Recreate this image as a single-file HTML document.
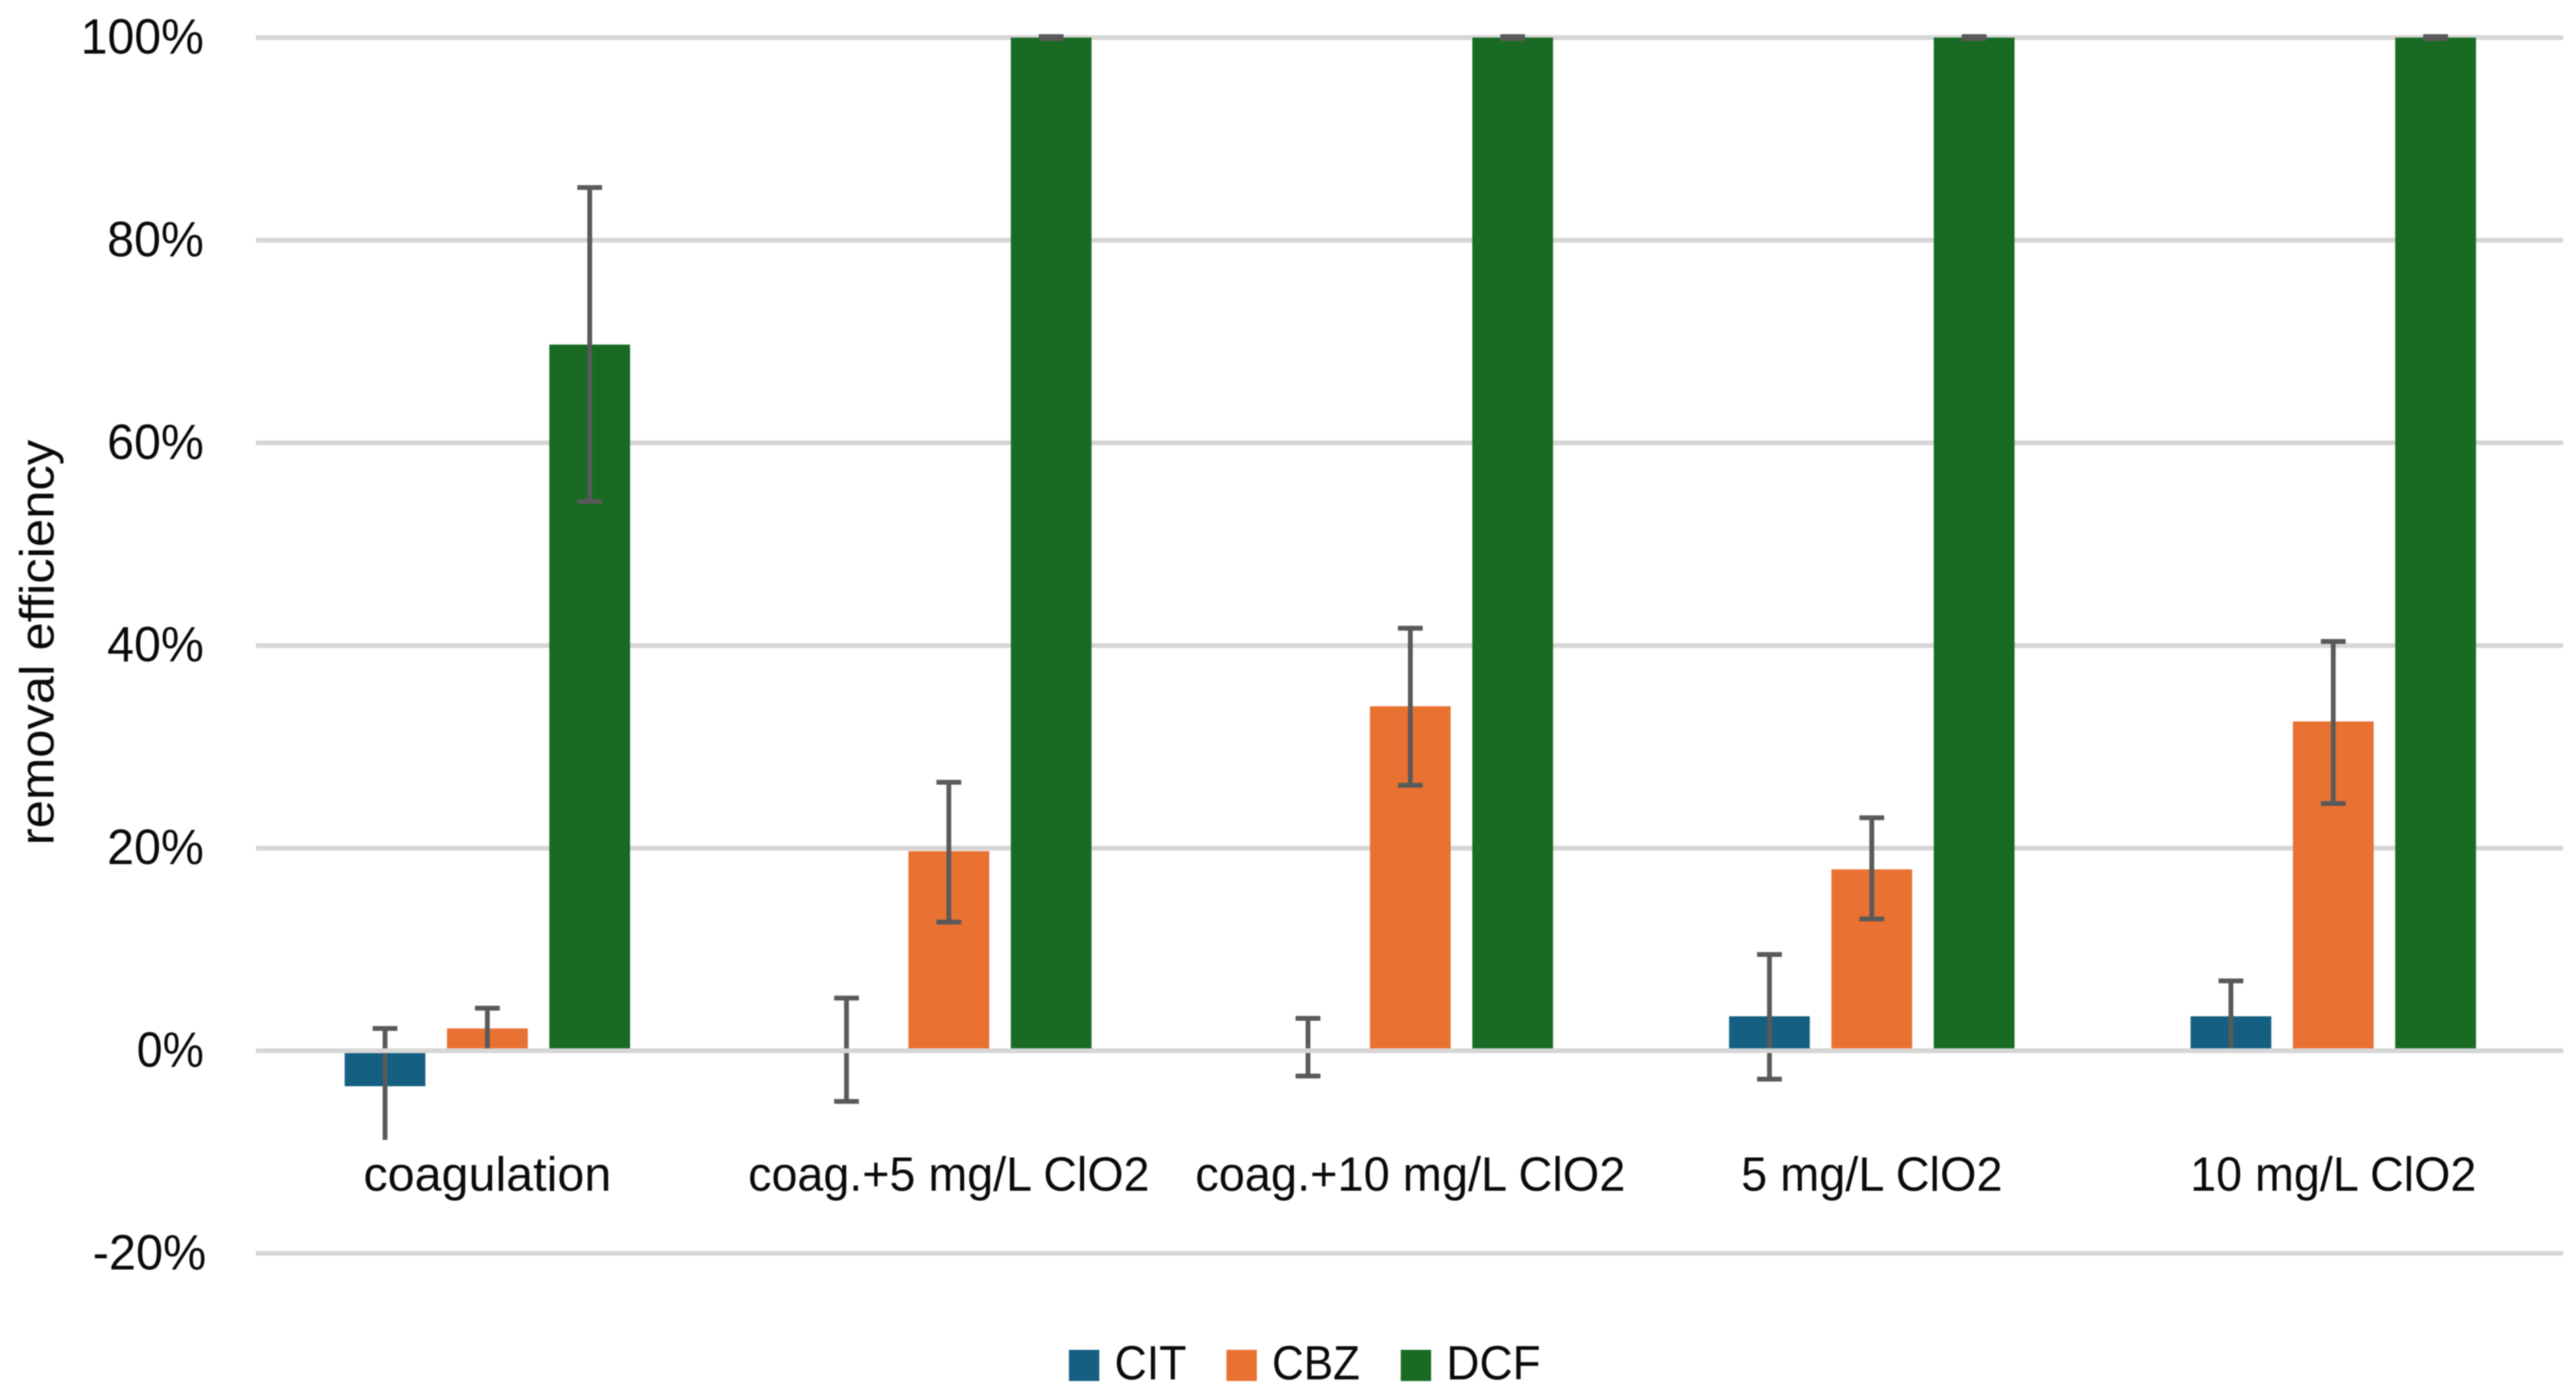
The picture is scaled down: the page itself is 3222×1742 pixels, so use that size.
<!DOCTYPE html>
<html lang="en">
<head>
<meta charset="utf-8">
<title>Removal efficiency chart</title>
<style>
  html, body { margin: 0; padding: 0; background: #ffffff; }
  body { width: 3222px; height: 1742px; overflow: hidden; }
  #chart { display: block; filter: blur(0.7px); }
  text { font-family: "Liberation Sans", sans-serif; font-size: 60px; fill: #0a0a0a; }
  .tick { font-size: 62px; }
</style>
</head>
<body>
<svg id="chart" xmlns="http://www.w3.org/2000/svg" width="3222" height="1742" viewBox="0 0 3222 1742">
  <rect x="0" y="0" width="3222" height="1742" fill="#ffffff"/>
  <text transform="translate(67 1057) rotate(-90)" textLength="507" lengthAdjust="spacingAndGlyphs">removal efficiency</text>
</svg>
<script>
const categories = ['coagulation', 'coag.+5 mg/L ClO2', 'coag.+10 mg/L ClO2', '5 mg/L ClO2', '10 mg/L ClO2'];
const seriesNames = ['CIT', 'CBZ', 'DCF'];
const tickValues = [100, 80, 60, 40, 20, 0, -20];
const citValues = [-3.5, 0, 0, 3.4, 3.4];
const cbzValues = [2.2, 19.7, 34, 17.9, 32.5];
const dcfValues = [69.7, 100, 100, 100, 100];
const citErrHigh = [2.2, 5.2, 3.2, 9.5, 6.9];
const citErrLow = [-8.8, -5, -2.5, -2.8, 0];
const citLowCapShown = [false, true, true, true, true];
const cbzErrHigh = [4.2, 26.5, 41.7, 23, 40.4];
const cbzErrLow = [0, 12.7, 26.2, 13, 24.4];
const dcfErrHigh = [85.2, 100.1, 100.1, 100.1, 100.1];
const dcfErrLow = [54.2, 99.9, 99.9, 99.9, 99.9];
const categoryLabelWidths = [310, 502, 538, 327, 358];
const legendLabelWidths = [90, 110, 118];

const svgNS = 'http://www.w3.org/2000/svg';
const svg = document.getElementById('chart');
const plotLeft = 321, plotRight = 3207;
const gridLeft = 320, gridRight = 3206;
const zeroY = 1314, pxPerPercent = 12.67;
const barWidth = 101, barOffset = 128, capWidth = 31, errStroke = 6;
const labelBaseline = 1489;
const seriesColors = ['#156082', '#E97132', '#196B24'];
const errColor = '#595959';
const gridColor = '#d6d6d6';

function yScale(v) { return zeroY - v * pxPerPercent; }
function xCenter(i) { return plotLeft + (plotRight - plotLeft) * (i + 0.5) / categories.length; }
function create(tag, attrs) {
  const node = document.createElementNS(svgNS, tag);
  for (const k in attrs) node.setAttribute(k, attrs[k]);
  return node;
}

function drawGridLine(v) {
  const line = create('line', { x1: gridLeft, x2: gridRight, y1: yScale(v), y2: yScale(v), stroke: gridColor, 'stroke-width': 6 });
  
  
  svg.appendChild(line);
}

tickValues.filter(function (v) { return v !== 0; }).forEach(drawGridLine);

tickValues.forEach(function (v) {
  const label = v + '%';
  const t = create('text', { class: 'tick', x: v < 0 ? 258 : 255, y: yScale(v) + 20, 'text-anchor': 'end', textLength: label.length * 30 + (v < 0 ? 22 : (v === 0 ? 24 : (v === 100 ? 34 : 31))), lengthAdjust: 'spacingAndGlyphs' });
  
  
  t.textContent = label;
  svg.appendChild(t);
});

const seriesData = [
  { values: citValues, high: citErrHigh, low: citErrLow },
  { values: cbzValues, high: cbzErrHigh, low: cbzErrLow },
  { values: dcfValues, high: dcfErrHigh, low: dcfErrLow }
];

seriesData.forEach(function (series, s) {
  series.values.forEach(function (v, i) {
    if (v === 0) return;
    const cx = xCenter(i) + (s - 1) * barOffset;
    const top = Math.min(yScale(v), yScale(0));
    const rect = create('rect', { x: cx - barWidth / 2, y: top, width: barWidth, height: Math.abs(yScale(v) - yScale(0)), fill: seriesColors[s] });
    
    
    svg.appendChild(rect);
  });
});

function drawCap(cx, v) {
  const cap = create('line', { x1: cx - capWidth / 2, x2: cx + capWidth / 2, y1: yScale(v), y2: yScale(v), stroke: errColor, 'stroke-width': errStroke });
  
  
  svg.appendChild(cap);
}

seriesData.forEach(function (series, s) {
  series.high.forEach(function (hi, i) {
    const lo = series.low[i];
    const cx = xCenter(i) + (s - 1) * barOffset;
    const stem = create('line', { x1: cx, x2: cx, y1: yScale(hi), y2: yScale(lo), stroke: errColor, 'stroke-width': errStroke });
    
    
    svg.appendChild(stem);
    drawCap(cx, hi);
    if (s !== 0 || citLowCapShown[i]) drawCap(cx, lo);
  });
});

drawGridLine(0);

categories.forEach(function (label, i) {
  const t = create('text', { x: xCenter(i), y: labelBaseline, 'text-anchor': 'middle', textLength: categoryLabelWidths[i], lengthAdjust: 'spacingAndGlyphs' });
  
  
  t.textContent = label;
  svg.appendChild(t);
});

const legendSwatchX = [1337, 1534, 1752];
seriesNames.forEach(function (name, s) {
  const swatch = create('rect', { x: legendSwatchX[s], y: 1688, width: 38, height: 39, fill: seriesColors[s] });
  
  
  svg.appendChild(swatch);
  const t = create('text', { x: legendSwatchX[s] + 57, y: 1725, textLength: legendLabelWidths[s], lengthAdjust: 'spacingAndGlyphs' });
  
  
  t.textContent = name;
  svg.appendChild(t);
});
</script>
</body>
</html>
